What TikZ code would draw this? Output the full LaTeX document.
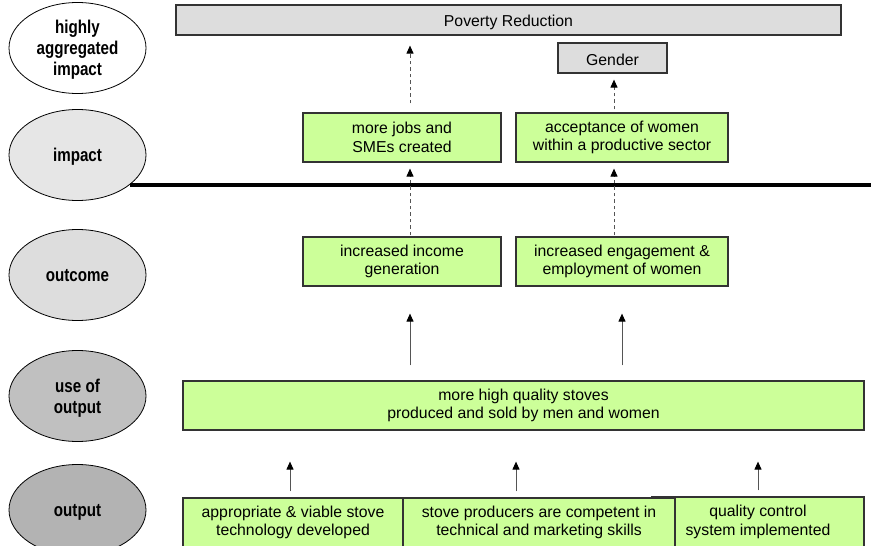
\documentclass[tikz,border=0pt]{standalone}
\usepackage{fontspec}
\setmainfont{Liberation Sans}
\newfontfamily\narrowfont[FakeStretch=0.82]{Liberation Sans}
\usetikzlibrary{shapes.geometric,arrows.meta,calc}
\definecolor{boxgreen}{HTML}{CCFF99}
\definecolor{boxgrey}{HTML}{DDDDDD}
\definecolor{edgegrey}{HTML}{333333}
\definecolor{arrowgrey}{HTML}{555555}
\definecolor{lvlA}{HTML}{FFFFFF}
\definecolor{lvlB}{HTML}{E6E6E6}
\definecolor{lvlC}{HTML}{DDDDDD}
\definecolor{lvlD}{HTML}{C0C0C0}
\definecolor{lvlE}{HTML}{B3B3B3}
\begin{document}
\begin{tikzpicture}[x=1pt,y=-1pt,
  level/.style={ellipse, draw=black, line width=0.8pt, minimum width=137pt,
    minimum height=91pt, inner sep=0pt, align=center, text depth=0pt,
    font=\narrowfont\bfseries\fontsize{18.5}{20.8}\selectfont},
  gbox/.style={rectangle, draw=edgegrey, line width=1.2pt, fill=boxgreen,
    inner sep=0pt, align=center, font=\fontsize{15.8}{18.3}\selectfont},
  greybox/.style={gbox, fill=boxgrey, text height=14pt, text depth=0pt},
  solidarrow/.style={draw=arrowgrey, line width=1pt,
    -{Triangle[length=8pt,width=7pt,color=black]}},
  dasharrow/.style={solidarrow, dash pattern=on 3.5pt off 3pt}]
\useasboundingbox (0,0) rectangle (871,546);

% level ellipses
\node[level, fill=lvlA] (l1) at (77.5,48) {highly\\aggregated\\impact};
\node[level, fill=lvlB] (l2) at (77.5,155) {impact};
\node[level, fill=lvlC] (l3) at (77.5,275) {outcome};
\node[level, fill=lvlD] (l4) at (77.5,396) {use of\\output};
\node[level, fill=lvlE] (l5) at (77.5,510) {output};

% separator line
\coordinate (sepL) at (130,184.5);
\coordinate (sepR) at (871,184.5);
\draw[line width=4pt, black] (sepL) -- (sepR);

% boxes
\node[greybox, minimum width=665pt, minimum height=30pt] (pov) at (508.5,20) {Poverty Reduction};
\node[greybox, minimum width=109pt, minimum height=30pt] (gen) at (612.5,58) {Gender};
\node[gbox, minimum width=198pt, minimum height=49pt] (jobs) at (402,137.5) {more jobs and\\SMEs created};
\node[gbox, minimum width=212pt, minimum height=49pt] (acc) at (622,137.5) {acceptance of women\\within a productive sector};
\node[gbox, minimum width=198pt, minimum height=49pt] (inc) at (402,261.5) {increased income\\generation};
\node[gbox, minimum width=212pt, minimum height=49pt] (eng) at (622,261.5) {increased engagement \&\\employment of women};
\node[gbox, minimum width=681pt, minimum height=49pt] (stv) at (523.5,405.5) {more high quality stoves\\produced and sold by men and women};
\node[gbox, minimum width=212pt, minimum height=50pt] (o3) at (758,522) {quality control\\system implemented};
\node[gbox, minimum width=220pt, minimum height=49pt] (o1) at (293,522.5) {appropriate \& viable stove\\technology developed};
\node[gbox, minimum width=272pt, minimum height=49pt] (o2) at (539,522.5) {stove producers are competent in\\technical and marketing skills};

% arrow columns
\coordinate (xa) at (410,0);
\coordinate (xb) at (614,0);
\coordinate (xc) at (622,0);
\coordinate (xd) at (290,0);
\coordinate (xe) at (516,0);
\coordinate (xf) at (758,0);

% dashed arrows
\draw[dasharrow, shorten <=9pt, shorten >=10pt] (jobs.north -| xa) -- (pov.south -| xa);
\draw[dasharrow, shorten <=1pt, shorten >=6pt] (inc.north -| xa) -- (jobs.south -| xa);
\draw[dasharrow, shorten <=3pt, shorten >=6pt] (acc.north -| xb) -- (gen.south -| xb);
\draw[dasharrow, shorten <=1pt, shorten >=6pt] (eng.north -| xb) -- (acc.south -| xb);

% solid arrows
\draw[solidarrow, shorten <=15pt, shorten >=27pt] (stv.north -| xa) -- (inc.south -| xa);
\draw[solidarrow, shorten <=15pt, shorten >=27pt] (stv.north -| xc) -- (eng.south -| xc);
\draw[solidarrow, shorten <=6pt, shorten >=31pt] (o1.north -| xd) -- (stv.south -| xd);
\draw[solidarrow, shorten <=6pt, shorten >=31pt] (o2.north -| xe) -- (stv.south -| xe);
\draw[solidarrow, shorten <=6pt, shorten >=31pt] (o3.north -| xf) -- (stv.south -| xf);
\end{tikzpicture}
\end{document}
